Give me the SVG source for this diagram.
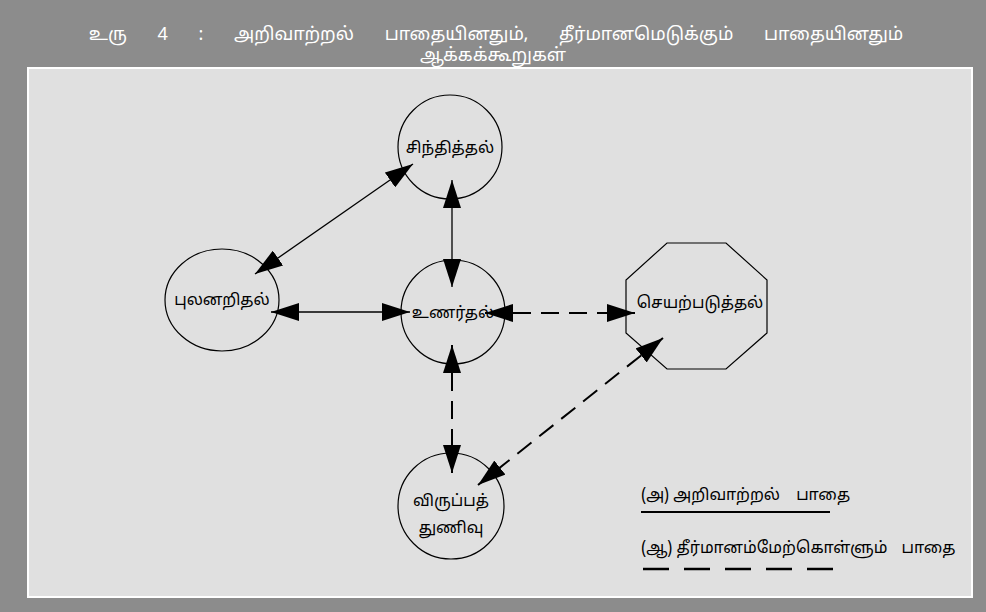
<svg xmlns="http://www.w3.org/2000/svg" width="986" height="612" viewBox="0 0 986 612">
<style>
.title{font-family:"Noto Sans Tamil","Noto Serif Tamil","Noto Sans",sans-serif;font-size:18px;fill:#ffffff;text-anchor:middle}
.lbl{font-family:"Noto Sans Tamil","Noto Serif Tamil","Noto Sans",sans-serif;font-size:16px;fill:#000;text-anchor:middle}
.leg{font-family:"Noto Sans Tamil","Noto Serif Tamil","Noto Sans",sans-serif;font-size:16px;fill:#000}
.node{fill:none;stroke:#000;stroke-width:1.2}
.solid{stroke:#000;stroke-width:1.3;fill:none;marker-start:url(#ah);marker-end:url(#ah)}
.dash{stroke:#000;stroke-width:2;fill:none;stroke-dasharray:18 10;marker-start:url(#ah);marker-end:url(#ah)}
</style>
<defs>
<marker id="ah" markerUnits="userSpaceOnUse" markerWidth="28" markerHeight="18" refX="28" refY="9" orient="auto-start-reverse" viewBox="0 0 28 18">
<path d="M0,0 L28,9 L0,18 z" fill="#000"/>
</marker>
</defs>
<rect x="0" y="0" width="986" height="612" fill="#8c8c8c"/>
<rect x="28" y="68" width="944" height="529" fill="#e0e0e0" stroke="#ffffff" stroke-width="2"/>
<text class="title" x="496" y="40" word-spacing="26">உரு 4 : அறிவாற்றல் பாதையினதும், தீர்மானமெடுக்கும் பாதையினதும்</text>
<text class="title" x="493" y="61">ஆக்கக்கூறுகள்</text>

<g id="connectors">
<line class="solid" x1="255" y1="274" x2="413" y2="164"/>
<line class="solid" x1="452" y1="180" x2="452" y2="287"/>
<line class="solid" x1="271" y1="312" x2="410" y2="312"/>
<line class="dash" x1="485" y1="313" x2="635" y2="313"/>
<line class="dash" x1="452" y1="345" x2="452" y2="473"/>
<line class="dash" x1="663" y1="338" x2="478" y2="485"/>
</g>

<g id="n-sinthithal">
<circle class="node" cx="450" cy="147" r="52"/>
<text class="lbl" x="450" y="153">சிந்தித்தல்</text>
</g>
<g id="n-pulanarithal">
<ellipse class="node" cx="222" cy="300" rx="57" ry="51"/>
<text class="lbl" x="222" y="305">புலனறிதல்</text>
</g>
<g id="n-unarthal">
<circle class="node" cx="453" cy="312" r="52"/>
<text class="lbl" x="453" y="318">உணர்தல்</text>
</g>
<g id="n-seyarpaduthal">
<polygon class="node" points="667,243 726,243 767,280 767,333 726,369 667,369 626,333 626,280"/>
<text class="lbl" x="700" y="308">செயற்படுத்தல்</text>
</g>
<g id="n-viruppa">
<circle class="node" cx="451" cy="506" r="53"/>
<text class="lbl" x="451" y="506">விருப்பத்</text>
<text class="lbl" x="451" y="533">துணிவு</text>
</g>

<g id="legend">
<text class="leg" x="641" y="500">(அ) அறிவாற்றல் <tspan dx="12">பாதை</tspan></text>
<line x1="641" y1="512" x2="830" y2="512" stroke="#000" stroke-width="2"/>
<text class="leg" x="641" y="553">(ஆ) தீர்மானம்மேற்கொள்ளும் <tspan dx="10">பாதை</tspan></text>
<line x1="643" y1="569" x2="834" y2="569" stroke="#000" stroke-width="2.5" stroke-dasharray="26 15"/>
</g>
</svg>
